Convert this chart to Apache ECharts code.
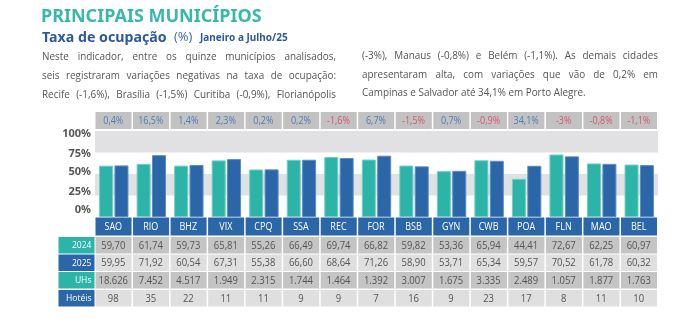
<!DOCTYPE html>
<html>
<head>
<meta charset="utf-8">
<script src="https://cdn.jsdelivr.net/npm/echarts@6/dist/echarts.min.js"></script>
<style>
html,body{margin:0;padding:0;background:#fff;}
#chart{width:700px;height:324px;}
</style>
</head>
<body>
<div id="chart"></div>
<script>
// ---- data ----
const cities = ['SAO','RIO','BHZ','VIX','CPQ','SSA','REC','FOR','BSB','GYN','CWB','POA','FLN','MAO','BEL'];
const rate2024 = [59.70,61.74,59.73,65.81,55.26,66.49,69.74,66.82,59.82,53.36,65.94,44.41,72.67,62.25,60.97];
const rate2025 = [59.95,71.92,60.54,67.31,55.38,66.60,68.64,71.26,58.90,53.71,65.34,59.57,70.52,61.78,60.32];
const variation = ['0,4%','16,5%','1,4%','2,3%','0,2%','0,2%','-1,6%','6,7%','-1,5%','0,7%','-0,9%','34,1%','-3%','-0,8%','-1,1%'];
const rooms = ['18.626','7.452','4.517','1.949','2.315','1.744','1.464','1.392','3.007','1.675','3.335','2.489','1.057','1.877','1.763'];
const hotels = [98,35,22,11,11,9,9,7,16,9,23,17,8,11,10];
const rowHeaders = ['2024','2025','UHs','Hotéis'];
const yTickLabels = ['0%','25%','50%','75%','100%'];
const titleText = 'PRINCIPAIS MUNICÍPIOS';
const leftLines = [
  'Neste indicador, entre os quinze municípios analisados,',
  'seis registraram variações negativas na taxa de ocupação:',
  'Recife (-1,6%), Brasília (-1,5%) Curitiba (-0,9%), Florianópolis'
];
const rightLines = [
  '(-3%), Manaus (-0,8%) e Belém (-1,1%). As demais cidades',
  'apresentaram alta, com variações que vão de 0,2% em',
  'Campinas e Salvador até 34,1% em Porto Alegre.'
];

// ---- styles ----
const TEAL = '#2cb4a8';
const BLUE = '#2a66a8';
const GRAY_D = '#c4c4c4';
const GRAY_L = '#dfdfdf';
const BAND = '#e1e1e4';
const TXT = '#555555';
const FAMILY = '"Open Sans", sans-serif';
const CONDENSE = 0.9;
const PARA_SIZE = 11;
const fmt = v => v.toFixed(2).replace('.', ',');

const mctx = document.createElement('canvas').getContext('2d');

function lineWords(line, x0, x1, y, justify) {
  const font = PARA_SIZE + 'px ' + FAMILY;
  mctx.font = font;
  const words = line.split(' ');
  const widths = words.map(w => mctx.measureText(w).width * CONDENSE);
  const total = widths.reduce((a, b) => a + b, 0);
  const gap = justify ? (x1 - x0 - total) / (words.length - 1) : mctx.measureText(' ').width * CONDENSE;
  let x = x0;
  return words.map((w, k) => {
    const el = {type: 'text', x: x, y: y, scaleX: CONDENSE, silent: true,
      style: {text: w, font: font, fill: TXT, textAlign: 'left', align: 'left', textVerticalAlign: 'middle', verticalAlign: 'middle'}};
    x += widths[k] + gap;
    return el;
  });
}

const graphics = [];
graphics.push({type: 'text', x: 41, y: 16.5, silent: true,
  style: {text: titleText, font: 'bold 18px "Noto Sans", sans-serif', fill: '#38b8aa', textVerticalAlign: 'middle', verticalAlign: 'middle'}});
graphics.push({type: 'text', x: 42, y: 37.5, silent: true,
  style: {text: 'Taxa de ocupação', font: 'bold 14.2px "Noto Sans", sans-serif', fill: '#2c5a9f', textVerticalAlign: 'middle', verticalAlign: 'middle'}});
graphics.push({type: 'text', x: 174, y: 37.5, silent: true,
  style: {text: '(%)', font: '13px "Open Sans", sans-serif', fill: '#3d6aad', textVerticalAlign: 'middle', verticalAlign: 'middle'}});
graphics.push({type: 'text', x: 200, y: 38.5, silent: true,
  style: {text: 'Janeiro a Julho/25', font: 'bold 10px "Noto Sans", sans-serif', fill: '#2c5a9f', textVerticalAlign: 'middle', verticalAlign: 'middle'}});
const leftY = [57, 76, 95];
const rightY = [56, 74.5, 93];
leftLines.forEach((l, k) => graphics.push(...lineWords(l, 42, 336, leftY[k], true)));
rightLines.forEach((l, k) => graphics.push(...lineWords(l, 362, 658, rightY[k], k < rightLines.length - 1)));

// cell row drawn through the category scale
function cellRow(texts, refVal, yOff, h, fill, colorFn, fontSize, header, headerFill) {
  return {
    type: 'custom', silent: true, z: 5,
    data: texts.map((_, i) => [i, refVal]),
    renderItem: function (params, api) {
      const i = params.dataIndex;
      const base = api.coord([api.value(0), refVal]);
      const w = api.size([1, 0])[0];
      const x = base[0] - w / 2 + 0.5;
      const y = base[1] + yOff;
      const children = [
        {type: 'rect', shape: {x: x, y: y, width: w - 1.5, height: h}, style: {fill: fill}},
        {type: 'text', x: base[0] - 0.5, y: y + h / 2 + 0.5, scaleX: CONDENSE,
          style: {text: String(texts[i]), x: 0, y: 0,
          textAlign: 'center', align: 'center', textVerticalAlign: 'middle', verticalAlign: 'middle',
          fill: colorFn(i), fontSize: fontSize, fontFamily: FAMILY}}
      ];
      if (header && i === 0) {
        children.push({type: 'rect', shape: {x: x - 37, y: y, width: 36, height: h}, style: {fill: headerFill}});
        children.push({type: 'text', x: x - 4, y: y + h / 2 + 0.5, scaleX: CONDENSE,
          style: {text: header, x: 0, y: 0,
          textAlign: 'right', align: 'right', textVerticalAlign: 'middle', verticalAlign: 'middle',
          fill: '#ffffff', fontSize: 9.5, fontFamily: FAMILY}});
      }
      return {type: 'group', children: children};
    }
  };
}

// small vertical nudges of y labels (label rows are evenly spaced a bit tighter than the bands)
const labelShift = {0: 7, 25: 4, 50: 2, 75: -1, 100: -3};
const rich = {};
Object.keys(labelShift).forEach(k => {
  const s = labelShift[k];
  rich['l' + k] = {color: TXT, fontWeight: 'bold', fontSize: 11, fontFamily: '"Noto Sans", sans-serif',
    padding: s > 0 ? [0, 0, 2 * s, 0] : [-2 * s, 0, 0, 0]};
});

const chart = echarts.init(document.getElementById('chart'), null, {renderer: 'canvas'});
chart.setOption({
  animation: false,
  backgroundColor: '#ffffff',
  graphic: graphics,
  grid: {left: 95, right: 42, top: 131, bottom: 107, containLabel: false},
  xAxis: {type: 'category', data: cities, axisLine: {show: false}, axisTick: {show: false}, axisLabel: {show: false}, splitLine: {show: false}},
  yAxis: {type: 'value', min: 0, max: 100, interval: 25,
    axisLine: {show: false}, axisTick: {show: false}, splitLine: {show: false},
    splitArea: {show: true, areaStyle: {color: ['#ffffff', BAND, '#ffffff', BAND]}},
    axisLabel: {margin: 4, rich: rich,
      formatter: v => '{l' + v + '|' + yTickLabels[v / 25] + '}'}},
  series: [
    {name: '2024', type: 'bar', data: rate2024, barWidth: 14, barGap: '10%',
      itemStyle: {color: TEAL, borderColor: '#6fcfc5', borderWidth: 1}},
    {name: '2025', type: 'bar', data: rate2025, barWidth: 14,
      itemStyle: {color: BLUE, borderColor: '#5c8cc3', borderWidth: 1}},
    cellRow(variation, 100, -19, 17, '#c2c2c2', i => variation[i].startsWith('-') ? '#d4566c' : '#4e7cba', 10),
    cellRow(cities, 0, 0.5, 18, BLUE, () => '#ffffff', 10),
    cellRow(rate2024.map(fmt), 0, 20, 16.5, GRAY_D, () => TXT, 10.5, rowHeaders[0], TEAL),
    cellRow(rate2025.map(fmt), 0, 37.5, 16.5, GRAY_L, () => TXT, 10.5, rowHeaders[1], BLUE),
    cellRow(rooms, 0, 55, 16.5, GRAY_D, () => TXT, 10.5, rowHeaders[2], TEAL),
    cellRow(hotels, 0, 73, 16.5, GRAY_L, () => TXT, 10.5, rowHeaders[3], BLUE)
  ]
});
</script>
</body>
</html>
